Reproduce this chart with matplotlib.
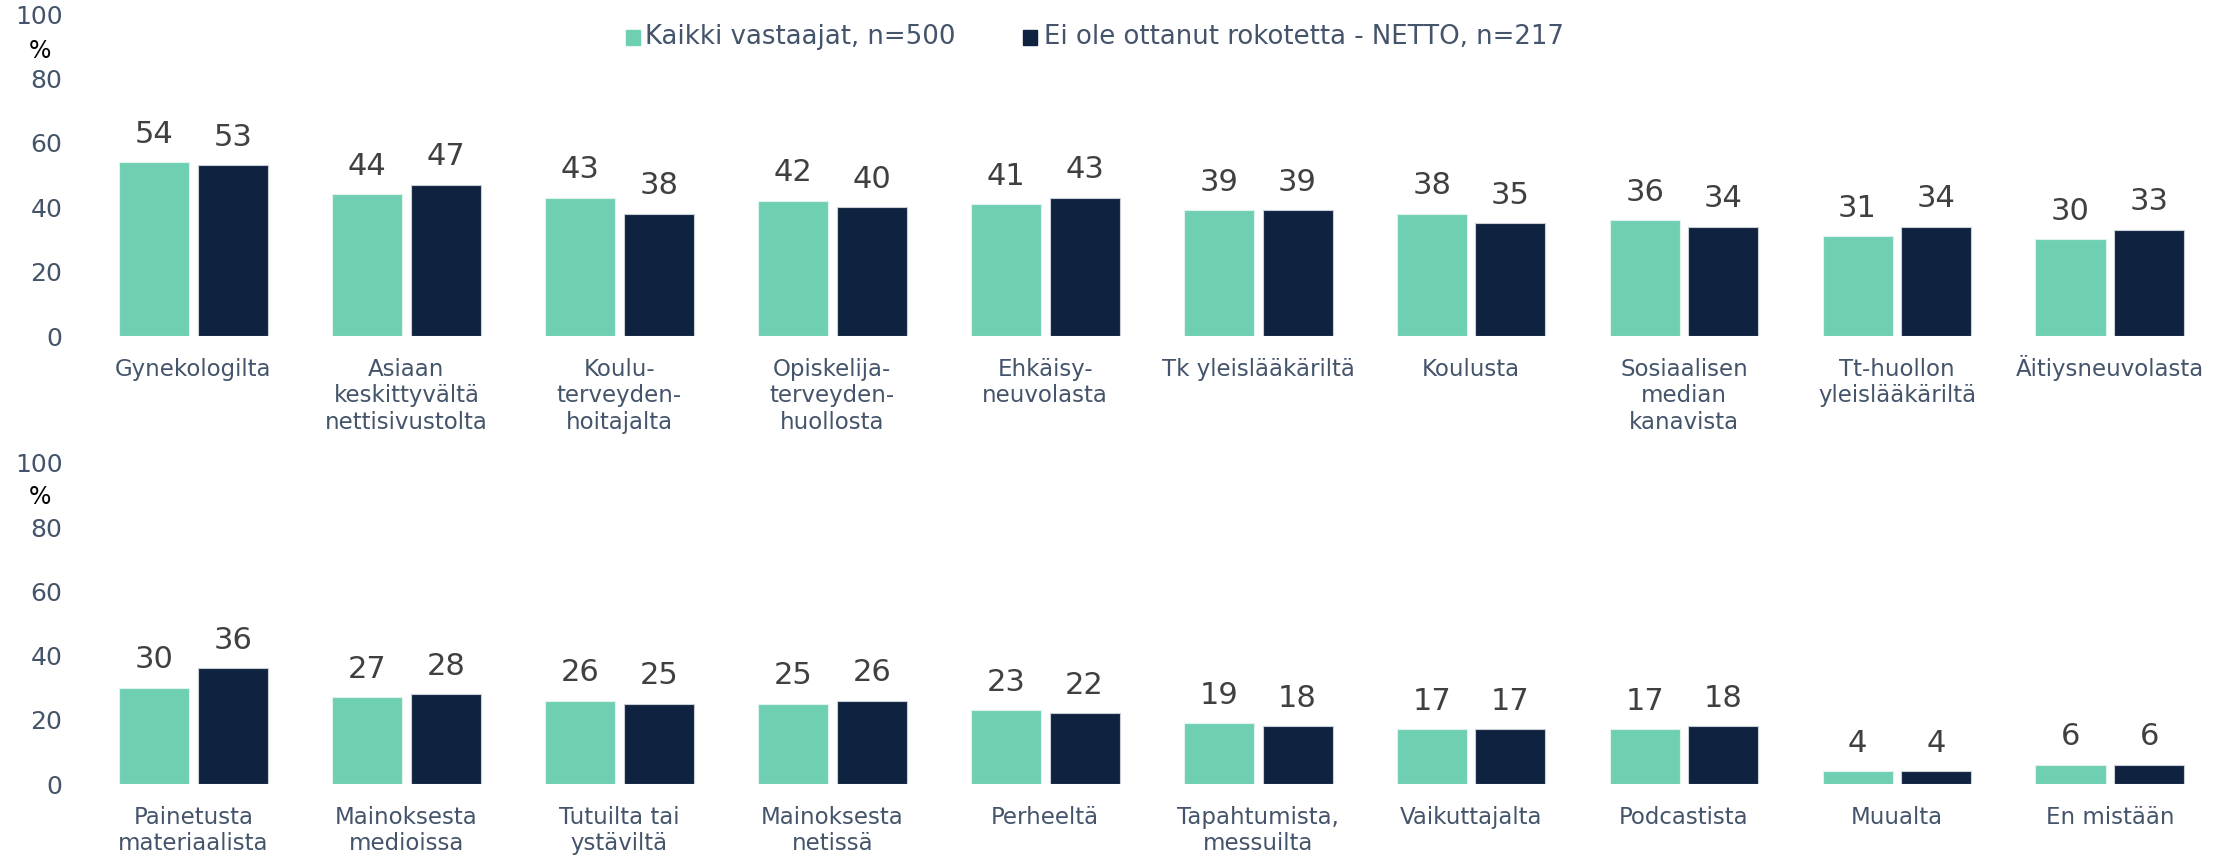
import matplotlib
matplotlib.use("Agg")
import matplotlib.pyplot as plt
import numpy as np
from matplotlib.patches import Rectangle
from matplotlib.transforms import ScaledTranslation

plt.rcParams['font.family'] = ['DejaVu Sans']

series_names = ["Kaikki vastaajat, n=500", "Ei ole ottanut rokotetta - NETTO, n=217"]
colors = ["#6FCFB2", "#0F2340"]

top_categories = ["Gynekologilta", "Asiaan\nkeskittyvältä\nnettisivustolta",
                  "Koulu-\nterveyden-\nhoitajalta", "Opiskelija-\nterveyden-\nhuollosta",
                  "Ehkäisy-\nneuvolasta", "Tk yleislääkäriltä", "Koulusta",
                  "Sosiaalisen\nmedian\nkanavista", "Tt-huollon\nyleislääkäriltä",
                  "Äitiysneuvolasta"]
top_all = [54, 44, 43, 42, 41, 39, 38, 36, 31, 30]
top_netto = [53, 47, 38, 40, 43, 39, 35, 34, 34, 33]

bottom_categories = ["Painetusta\nmateriaalista", "Mainoksesta\nmedioissa",
                     "Tutuilta tai\nystäviltä", "Mainoksesta\nnetissä", "Perheeltä",
                     "Tapahtumista,\nmessuilta", "Vaikuttajalta", "Podcastista",
                     "Muualta", "En mistään"]
bottom_all = [30, 27, 26, 25, 23, 19, 17, 17, 4, 6]
bottom_netto = [36, 28, 25, 26, 22, 18, 17, 18, 4, 6]

yticks = [0, 20, 40, 60, 80, 100]

W, H = 2234, 857
fig = plt.figure(figsize=(W / 100, H / 100), dpi=100)
renderer = fig.canvas.get_renderer()

ax_left = 76.35 / W
ax_width = (2227 - 76.35) / W


def panel(ax, cats, a, b):
    x = np.arange(len(cats))
    bw = 0.329
    off = 0.185
    ax.bar(x - off, a, bw, color=colors[0], edgecolor="#dff3ec", linewidth=0.8)
    ax.bar(x + off, b, bw, color=colors[1], edgecolor="#c8cdd6", linewidth=0.8)
    for xi, v in zip(x - off, a):
        ax.annotate(str(v), (xi, v), xytext=(0, 14), textcoords="offset points",
                    ha="center", va="baseline", fontsize=22, color="#404040")
    for xi, v in zip(x + off, b):
        ax.annotate(str(v), (xi, v), xytext=(0, 14), textcoords="offset points",
                    ha="center", va="baseline", fontsize=22, color="#404040")
    ax.set_xlim(-0.55, len(cats) - 0.45)
    ax.set_ylim(0, 100)
    ax.set_yticks(yticks)
    ax.set_yticklabels([str(t) for t in yticks], fontsize=18, color="#44546A")
    ax.set_xticks(x)
    labels = ax.set_xticklabels(cats, fontsize=16.5, color="#44546A",
                                linespacing=1.2, va="top")
    ax.tick_params(axis="both", length=0)
    ax.tick_params(axis="y", pad=10)
    ax.tick_params(axis="x", pad=15.5)
    # keep first-line baselines aligned even when the first line has tall glyphs (Ä)
    for lab in labels:
        prop = lab.get_fontproperties()
        first = lab.get_text().split("\n")[0]
        _, h, d = renderer.get_text_width_height_descent(first, prop, ismath=False)
        _, hl, dl = renderer.get_text_width_height_descent("lp", prop, ismath=False)
        diff = (max(h, hl) - max(d, dl)) - (hl - dl)
        if diff > 0:
            lab.set_transform(lab.get_transform() +
                              ScaledTranslation(0, diff / fig.dpi, fig.dpi_scale_trans))
    for s in ax.spines.values():
        s.set_visible(False)
    ax.patch.set_alpha(0)


ax1 = fig.add_axes([ax_left, 1 - 336 / H, ax_width, (336 - 14) / H])
panel(ax1, top_categories, top_all, top_netto)
ax2 = fig.add_axes([ax_left, 1 - 784 / H, ax_width, (784 - 463) / H])
panel(ax2, bottom_categories, bottom_all, bottom_netto)

# percent labels
fig.text(40 / W, 1 - 51 / H, "%", fontsize=17, color="black", ha="center", va="center")
fig.text(40 / W, 1 - 497 / H, "%", fontsize=17, color="black", ha="center", va="center")

# legend
for (sx, tx), name, c in zip([(626, 645), (1023, 1044)], series_names, colors):
    fig.patches.append(Rectangle((sx / W, 1 - 45 / H), 14 / W, 15 / H,
                                 transform=fig.transFigure, color=c, figure=fig))
    fig.text(tx / W, 1 - 37 / H, name, fontsize=18.7, color="#44546A",
             ha="left", va="center")

fig.savefig("out.png", dpi=100, facecolor="white")
